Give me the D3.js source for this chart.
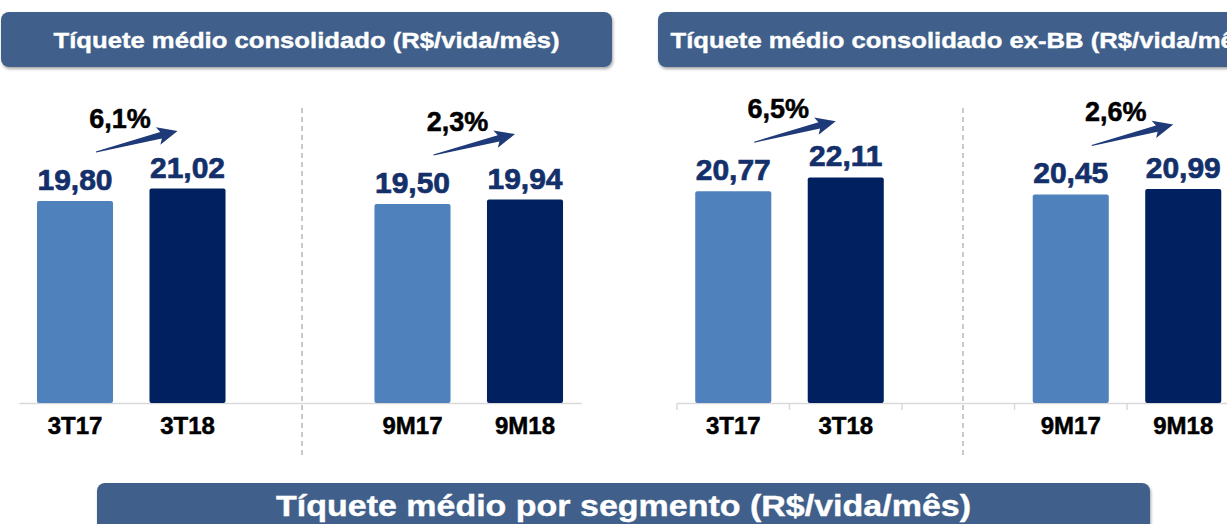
<!DOCTYPE html>
<html>
<head>
<meta charset="utf-8">
<script src="https://cdn.jsdelivr.net/npm/d3@7"></script>
<style>
  body { margin: 0; background: #fff; }
  text { font-family: "Liberation Sans", Arial, sans-serif; font-weight: bold; }
</style>
</head>
<body>
<div id="chart"></div>
<script>
// dados
const periods = ["3T17", "3T18", "9M17", "9M18"];
const consolidado = [19.80, 21.02, 19.50, 19.94];
const consolidadoExBB = [20.77, 22.11, 20.45, 20.99];
const growthConsolidado = ["6,1%", "2,3%"];
const growthExBB = ["6,5%", "2,6%"];
const titles = ["Tíquete médio consolidado (R$/vida/mês)",
  "Tíquete médio consolidado ex-BB (R$/vida/mês)",
  "Tíquete médio por segmento (R$/vida/mês)"];

const width = 1227, height = 524;
const lightBlue = "#4f81bd", darkBlue = "#002060", headerColor = "#3f5f8a";

const svg = d3.select("#chart").append("svg")
  .attr("width", width)
  .attr("height", height);

const defs = svg.append("defs");
const shadow = defs.append("filter").attr("id", "shadow")
  .attr("x", "-5%").attr("y", "-20%").attr("width", "110%").attr("height", "150%");
shadow.append("feDropShadow")
  .attr("dx", 1).attr("dy", 2).attr("stdDeviation", 1.5)
  .attr("flood-color", "#000").attr("flood-opacity", 0.35);

function header(x, y, w, h, title, size, len, baseline) {
  svg.append("rect")
    .attr("x", x).attr("y", y)
    .attr("width", w).attr("height", h)
    .attr("rx", 8)
    .attr("fill", headerColor)
    .attr("filter", "url(#shadow)");
  svg.append("text")
    .attr("x", x + w / 2)
    .attr("y", baseline)
    .attr("text-anchor", "middle")
    .attr("fill", "#fff")
    .attr("stroke", "#fff")
    .attr("stroke-width", 0.4)
    .attr("font-size", size)
    .attr("textLength", len)
    .attr("lengthAdjust", "spacingAndGlyphs")
    .text(title);
}

header(1, 12, 611, 55, titles[0], 22, 506, 48);
header(658, 12, 612, 55, titles[1], 22, 587, 48);
header(97, 483, 1053, 60, titles[2], 29, 695, 516);

const y = d3.scaleLinear()
  .domain([0, 30])
  .range([403, 97]);

function drawPanel(x0, values, growth, withTicks, dashX) {
  const domain = [periods[0], periods[1], "gap", periods[2], periods[3]];
  const x = d3.scaleBand()
    .domain(domain)
    .range([x0, x0 + 562.5])
    .paddingInner(0.324)
    .paddingOuter(0.162);

  const g = svg.append("g");
  const data = periods.map((p, i) => ({ p: p, v: values[i], i: i }));

  // separador tracejado
  g.append("line")
    .attr("x1", dashX).attr("x2", dashX)
    .attr("y1", 108).attr("y2", 456)
    .attr("stroke", "#a6a6a6")
    .attr("stroke-width", 1.2)
    .attr("stroke-dasharray", "5,4");

  // eixo
  const axis = g.append("g")
    .attr("transform", `translate(0, ${y(0)})`)
    .call(d3.axisBottom(x).tickSize(0).tickSizeOuter(0).tickPadding(14)
      .tickFormat(d => d == "gap" ? "" : d));
  axis.select(".domain").attr("stroke", "#d9d9d9").attr("stroke-width", 1.5);
  axis.selectAll("text")
    .attr("font-size", 24)
    .attr("fill", "#000")
    .attr("stroke", "#000")
    .attr("stroke-width", 0.5)
    .attr("font-family", "'Liberation Sans', Arial, sans-serif")
    .attr("font-weight", "bold")
    .attr("dy", "0.71em");

  if (withTicks) {
    const step = x.step();
    g.selectAll(".sep")
      .data(domain)
      .enter().append("line")
      .attr("x1", d => x(d) + x.bandwidth() / 2 - step / 2)
      .attr("x2", d => x(d) + x.bandwidth() / 2 - step / 2)
      .attr("y1", y(0))
      .attr("y2", y(0) + 7)
      .attr("stroke", "#d9d9d9")
      .attr("stroke-width", 1.5);
  }

  g.selectAll(".bar")
    .data(data)
    .enter().append("rect")
    .attr("x", d => x(d.p))
    .attr("y", d => y(d.v))
    .attr("width", x.bandwidth())
    .attr("height", d => y(0) - y(d.v))
    .attr("rx", 2)
    .attr("fill", d => d.i % 2 == 0 ? lightBlue : darkBlue);

  g.selectAll(".val")
    .data(data)
    .enter().append("text")
    .attr("x", d => x(d.p) + x.bandwidth() / 2)
    .attr("y", d => y(d.v) - 11)
    .attr("text-anchor", "middle")
    .attr("font-size", 30)
    .attr("fill", "#14306b")
    .attr("stroke", "#14306b")
    .attr("stroke-width", 0.7)
    .text(d => d.v.toFixed(2).replace(".", ","));

  // setas de crescimento
  growth.forEach((label, k) => {
    const a = data[k * 2], b = data[k * 2 + 1];
    const c1 = x(a.p) + x.bandwidth() / 2;
    const c2 = x(b.p) + x.bandwidth() / 2;
    const base = y(a.v);
    const x1 = c1 + 21, y1 = base - 49;
    const x2 = c2 - 10, y2 = base - 70;
    const dx = x2 - x1, dy = y2 - y1, len = Math.hypot(dx, dy);
    const ux = dx / len, uy = dy / len, nx = -uy, ny = ux;
    const headLen = 17, headW = 9, shaftW = 3.3;
    const hx = x2 - ux * headLen, hy = y2 - uy * headLen;
    const pts = [
      [x1 + nx * 0.5, y1 + ny * 0.5],
      [hx + nx * shaftW, hy + ny * shaftW],
      [hx - ux * 3 + nx * headW, hy - uy * 3 + ny * headW],
      [x2, y2],
      [hx - ux * 3 - nx * headW, hy - uy * 3 - ny * headW],
      [hx - nx * shaftW, hy - ny * shaftW],
      [x1 - nx * 0.5, y1 - ny * 0.5]
    ];
    g.append("path")
      .attr("d", d3.line()(pts) + "Z")
      .attr("fill", "#1f3a78");

    g.append("text")
      .attr("x", c1 + 45)
      .attr("y", base - 73)
      .attr("text-anchor", "middle")
      .attr("font-size", 27)
      .attr("fill", "#000")
      .attr("stroke", "#000")
      .attr("stroke-width", 0.5)
      .text(label);
  });
}

drawPanel(18.75, consolidado, growthConsolidado, false, 302);
drawPanel(677, consolidadoExBB, growthExBB, true, 963);
</script>
</body>
</html>
